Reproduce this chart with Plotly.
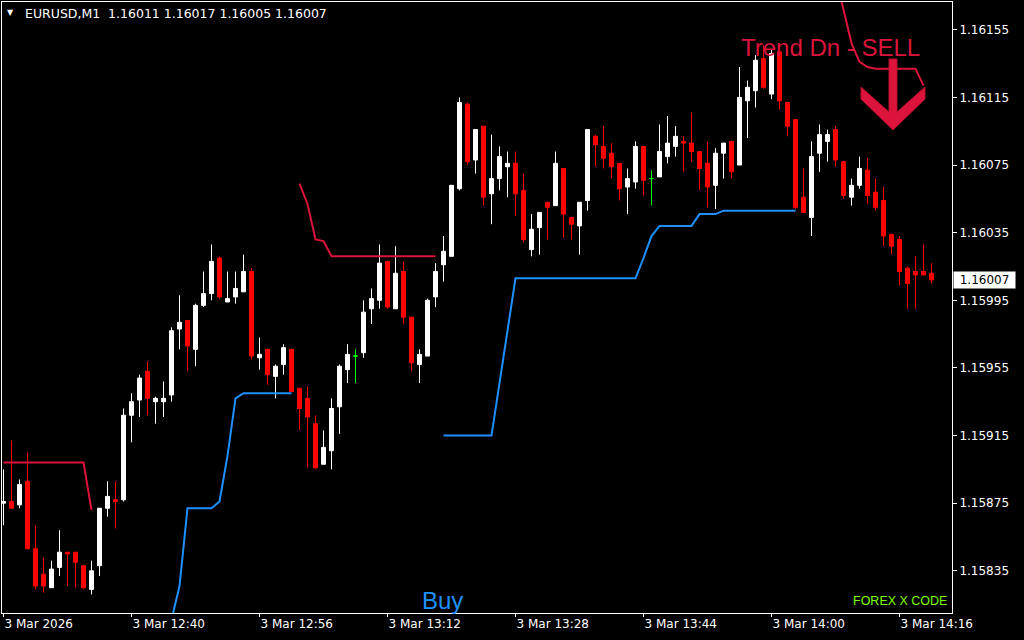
import pandas as pd
import plotly.graph_objects as go

symbol = "EURUSD,M1"
start_time = "2026-03-03 12:24"

open_ = [
    1.15875, 1.15876, 1.15874, 1.15888, 1.15848, 1.15833, 1.15825, 1.15837, 1.15846, 1.15846,
    1.15838, 1.15824, 1.15838, 1.15872, 1.15877, 1.15877, 1.15927, 1.15936, 1.15953, 1.15935,
    1.15935, 1.15939, 1.15978, 1.15983, 1.15966, 1.15992, 1.15999, 1.16020, 1.15994, 1.15997,
    1.16000, 1.16012, 1.15961, 1.15966, 1.15950, 1.15957, 1.15966, 1.15943, 1.15937, 1.15922,
    1.15898, 1.15906, 1.15932, 1.15954, 1.15962, 1.15964, 1.15990, 1.15995, 1.16018, 1.15990,
    1.16012, 1.15985, 1.15957, 1.15962, 1.15997, 1.16016, 1.16021, 1.16061, 1.16111, 1.16078,
    1.16098, 1.16058, 1.16067, 1.16074, 1.16076, 1.16060, 1.16025, 1.16038, 1.16053, 1.16051,
    1.16073, 1.16044, 1.16039, 1.16054, 1.16092, 1.16086, 1.16082, 1.16076, 1.16062, 1.16065,
    1.16086, 1.16067, 1.16068, 1.16080, 1.16086, 1.16089, 1.16088, 1.16083, 1.16076, 1.16063,
    1.16082, 1.16089, 1.16075, 1.16113, 1.16119, 1.16138, 1.16117, 1.16142, 1.16112, 1.16102,
    1.16056, 1.16044, 1.16082, 1.16089, 1.16096, 1.16077, 1.16056, 1.16063, 1.16072, 1.16059,
    1.16054, 1.16034, 1.16031, 1.16014, 1.16012, 1.16012, 1.16011,
]
high = [
    1.15895, 1.15912, 1.15889, 1.15905, 1.15862, 1.15843, 1.15841, 1.15859, 1.15846, 1.15846,
    1.15838, 1.15841, 1.15872, 1.15888, 1.15888, 1.15931, 1.15940, 1.15951, 1.15959, 1.15938,
    1.15947, 1.15979, 1.15998, 1.15983, 1.15993, 1.16012, 1.16028, 1.16021, 1.16012, 1.16012,
    1.16022, 1.16014, 1.15973, 1.15966, 1.15957, 1.15969, 1.15966, 1.15943, 1.15944, 1.15927,
    1.15918, 1.15937, 1.15957, 1.15969, 1.15966, 1.15995, 1.16002, 1.16028, 1.16018, 1.16027,
    1.16018, 1.15985, 1.15966, 1.15996, 1.16017, 1.16033, 1.16063, 1.16115, 1.16112, 1.16096,
    1.16098, 1.16093, 1.16086, 1.16083, 1.16083, 1.16070, 1.16046, 1.16047, 1.16053, 1.16083,
    1.16073, 1.16044, 1.16053, 1.16096, 1.16093, 1.16098, 1.16088, 1.16076, 1.16073, 1.16089,
    1.16086, 1.16072, 1.16099, 1.16104, 1.16098, 1.16092, 1.16106, 1.16083, 1.16089, 1.16085,
    1.16088, 1.16089, 1.16133, 1.16125, 1.16140, 1.16146, 1.16143, 1.16143, 1.16112, 1.16102,
    1.16073, 1.16089, 1.16099, 1.16096, 1.16098, 1.16077, 1.16067, 1.16080, 1.16079, 1.16067,
    1.16062, 1.16034, 1.16033, 1.16015, 1.16021, 1.16028, 1.16017,
]
low = [
    1.15862, 1.15872, 1.15872, 1.15848, 1.15824, 1.15822, 1.15825, 1.15832, 1.15826, 1.15825,
    1.15824, 1.15821, 1.15832, 1.15867, 1.15860, 1.15876, 1.15911, 1.15926, 1.15927, 1.15922,
    1.15926, 1.15935, 1.15966, 1.15953, 1.15956, 1.15991, 1.15995, 1.15996, 1.15994, 1.15993,
    1.16000, 1.15960, 1.15954, 1.15945, 1.15937, 1.15951, 1.15941, 1.15918, 1.15896, 1.15895,
    1.15898, 1.15895, 1.15916, 1.15946, 1.15946, 1.15961, 1.15981, 1.15990, 1.15990, 1.15990,
    1.15981, 1.15953, 1.15946, 1.15962, 1.15991, 1.16006, 1.16021, 1.16060, 1.16075, 1.16070,
    1.16051, 1.16040, 1.16060, 1.16056, 1.16045, 1.16029, 1.16021, 1.16022, 1.16031, 1.16051,
    1.16032, 1.16031, 1.16022, 1.16048, 1.16074, 1.16073, 1.16067, 1.16054, 1.16046, 1.16061,
    1.16057, 1.16051, 1.16068, 1.16076, 1.16080, 1.16071, 1.16077, 1.16060, 1.16050, 1.16049,
    1.16067, 1.16067, 1.16075, 1.16091, 1.16109, 1.16120, 1.16114, 1.16108, 1.16092, 1.16049,
    1.16047, 1.16033, 1.16071, 1.16077, 1.16074, 1.16055, 1.16051, 1.16061, 1.16052, 1.16048,
    1.16027, 1.16022, 1.16004, 1.15990, 1.15990, 1.16010, 1.16005,
]
close = [
    1.15876, 1.15872, 1.15886, 1.15848, 1.15826, 1.15826, 1.15836, 1.15846, 1.15845, 1.15840,
    1.15825, 1.15835, 1.15872, 1.15879, 1.15876, 1.15927, 1.15935, 1.15949, 1.15937, 1.15937,
    1.15937, 1.15977, 1.15982, 1.15968, 1.15992, 1.15999, 1.16018, 1.15997, 1.15996, 1.16002,
    1.16012, 1.15962, 1.15963, 1.15951, 1.15956, 1.15967, 1.15941, 1.15931, 1.15926, 1.15896,
    1.15908, 1.15931, 1.15956, 1.15963, 1.15962, 1.15988, 1.15996, 1.16017, 1.15991, 1.16011,
    1.15985, 1.15958, 1.15963, 1.15995, 1.16012, 1.16024, 1.16063, 1.16112, 1.16077, 1.16096,
    1.16056, 1.16067, 1.16080, 1.16076, 1.16058, 1.16031, 1.16037, 1.16047, 1.16050, 1.16076,
    1.16046, 1.16040, 1.16053, 1.16096, 1.16087, 1.16079, 1.16074, 1.16061, 1.16067, 1.16086,
    1.16066, 1.16067, 1.16083, 1.16088, 1.16092, 1.16088, 1.16083, 1.16073, 1.16062, 1.16082,
    1.16088, 1.16071, 1.16115, 1.16121, 1.16137, 1.16121, 1.16141, 1.16113, 1.16098, 1.16050,
    1.16047, 1.16080, 1.16093, 1.16093, 1.16078, 1.16057, 1.16063, 1.16073, 1.16057, 1.16050,
    1.16033, 1.16027, 1.16012, 1.16005, 1.16010, 1.16010, 1.16007,
]

N = None
# "Trend Dn" indicator line (sell side) - one value per bar, None where not drawn
trend_dn = (
    [1.15899] * 11 + [1.15871]
    + [N] * 25
    + [1.16064, 1.16052, 1.16031, 1.16030] + [1.16021] * 14
    + [N] * 49
    + [1.16187, 1.16167, 1.16147, 1.16136, 1.16133] + [1.16132] * 6 + [1.16122]
    + [N]
)
# "Trend Up" indicator line (buy side)
trend_up = (
    [N] * 21
    + [1.15806, 1.15826] + [1.15872] * 4 + [1.15876, 1.15903, 1.15937] + [1.15940] * 7
    + [N] * 18
    + [1.15915] * 7 + [1.15946, 1.15977] + [1.16008] * 16
    + [1.16020, 1.16033] + [1.16039] * 5 + [1.16046] * 3 + [1.16048] * 10
    + [N] * 17
)

tick_times = ["2026-03-03 12:24", "2026-03-03 12:40", "2026-03-03 12:56", "2026-03-03 13:12",
              "2026-03-03 13:28", "2026-03-03 13:44", "2026-03-03 14:00", "2026-03-03 14:16"]
tick_text = ["3 Mar 2026", "3 Mar 12:40", "3 Mar 12:56", "3 Mar 13:12",
             "3 Mar 13:28", "3 Mar 13:44", "3 Mar 14:00", "3 Mar 14:16"]
price_ticks = [1.16155, 1.16115, 1.16075, 1.16035, 1.15995, 1.15955, 1.15915, 1.15875, 1.15835]

sell_label = "Trend Dn - SELL"
buy_label = "Buy"
brand_label = "FOREX X CODE"

# ---------------------------------------------------------------------------
n = len(close)
times = pd.date_range(start_time, periods=n, freq="min")
doji = [i for i in range(n) if open_[i] == close[i]]
main = [i for i in range(n) if open_[i] != close[i]]

W, H = 1024, 640
ML, MR, MT, MB = 2, 72, 2, 27
PW, PH = W - ML - MR, H - MT - MB


def px(x):
    return (x - ML) / PW


def py(y):
    return 1 - (y - MT) / PH


def pick(arr, idx):
    return [arr[i] for i in idx]


fig = go.Figure()

fig.add_trace(go.Candlestick(
    x=times[main], open=pick(open_, main), high=pick(high, main),
    low=pick(low, main), close=pick(close, main),
    increasing=dict(line=dict(color="#FFFFFF", width=1), fillcolor="#FFFFFF"),
    decreasing=dict(line=dict(color="#FF0000", width=1), fillcolor="#FF0000"),
    whiskerwidth=0, hoverinfo="none", showlegend=False,
))
fig.add_trace(go.Candlestick(
    x=times[doji], open=pick(open_, doji), high=pick(high, doji),
    low=pick(low, doji), close=pick(close, doji),
    increasing=dict(line=dict(color="#00FF00", width=1), fillcolor="#00FF00"),
    decreasing=dict(line=dict(color="#00FF00", width=1), fillcolor="#00FF00"),
    whiskerwidth=0, hoverinfo="none", showlegend=False,
))
fig.add_trace(go.Scatter(x=times, y=trend_dn, mode="lines", connectgaps=False,
                         line=dict(color="#DC143C", width=2), hoverinfo="none",
                         showlegend=False))
fig.add_trace(go.Scatter(x=times, y=trend_up, mode="lines", connectgaps=False,
                         line=dict(color="#1E90FF", width=2), hoverinfo="none",
                         showlegend=False))

t0 = times[0]
bar = pd.Timedelta(minutes=1)
x_range = [t0 - bar * 0.1875, t0 + bar * 118.5625]
y_range = [1.1581003, 1.1617145]

axis_font = dict(family="DejaVu Sans", size=12, color="#FFFFFF")

fig.update_layout(
    width=W, height=H,
    margin=dict(l=ML, r=MR, t=MT, b=MB, pad=0),
    paper_bgcolor="#000000", plot_bgcolor="#000000",
    showlegend=False,
    boxgap=0.5, boxgroupgap=0,
    xaxis=dict(
        type="date", range=x_range, rangeslider=dict(visible=False),
        showgrid=False, zeroline=False,
        showline=True, linecolor="#FFFFFF", linewidth=1, mirror=True,
        ticks="outside", ticklen=3, tickcolor="#FFFFFF", tickwidth=1,
        tickvals=pd.to_datetime(tick_times), ticktext=tick_text,
        ticklabelposition="outside right", tickfont=axis_font,
    ),
    yaxis=dict(
        side="right", range=y_range,
        showgrid=False, zeroline=False,
        showline=True, linecolor="#FFFFFF", linewidth=1, mirror=True,
        ticks="outside", ticklen=4, tickcolor="#FFFFFF", tickwidth=1,
        tickvals=price_ticks, ticktext=[f"{v:.5f}" for v in price_ticks],
        tickfont=axis_font,
    ),
)

annotations = [
    # header
    dict(x=px(10.5), y=py(12.5), xref="paper", yref="paper", text="\u25BC",
         showarrow=False, xanchor="center", yanchor="middle",
         font=dict(family="DejaVu Sans", size=8, color="#FFFFFF")),
    dict(x=px(23), y=py(13.5), xref="paper", yref="paper",
         text=f"{symbol}\u00a0\u00a0{open_[-1]:.5f} {high[-1]:.5f} {low[-1]:.5f} {close[-1]:.5f}",
         showarrow=False, xanchor="left", yanchor="middle",
         font=dict(family="DejaVu Sans", size=12.5, color="#FFFFFF")),
    # signal texts
    dict(x=px(739), y=py(47), xref="paper", yref="paper", text=sell_label,
         showarrow=False, xanchor="left", yanchor="middle",
         font=dict(family="Liberation Sans", size=24, color="#DC143C")),
    dict(x=px(442.5), y=py(600), xref="paper", yref="paper", text=buy_label,
         showarrow=False, xanchor="center", yanchor="middle",
         font=dict(family="Liberation Sans", size=24, color="#1E90FF")),
    dict(x=px(949), y=py(600.5), xref="paper", yref="paper", text=brand_label,
         showarrow=False, xanchor="right", yanchor="middle",
         font=dict(family="Liberation Sans Narrow, Liberation Sans", size=12.5, color="#7CFC00")),
    # current price box
    dict(x=1, y=close[-1], xref="paper", yref="y", text=f"{close[-1]:.5f}",
         showarrow=False, xanchor="left", yanchor="middle", xshift=1,
         bgcolor="#FFFFFF", borderpad=1, width=59, height=14, align="center",
         font=dict(family="DejaVu Sans", size=12, color="#000000")),
]
fig.update_layout(annotations=annotations)

# sell arrow glyph (decoration)
arrow_pts = [(889, 59), (897, 59), (897, 112), (925, 87), (925, 99), (893, 130),
             (861, 99), (861, 87), (889, 112)]
path = "M " + " L ".join(f"{px(a):.5f},{py(b):.5f}" for a, b in arrow_pts) + " Z"
fig.add_shape(type="path", path=path, xref="paper", yref="paper",
              fillcolor="#DC143C", line=dict(color="#B8102E", width=1), layer="above")

# remove the default page margin so the figure sits at the window origin
fig.write_html("out.html", config={"displayModeBar": False},
               post_script="document.body.style.margin='0px';")
